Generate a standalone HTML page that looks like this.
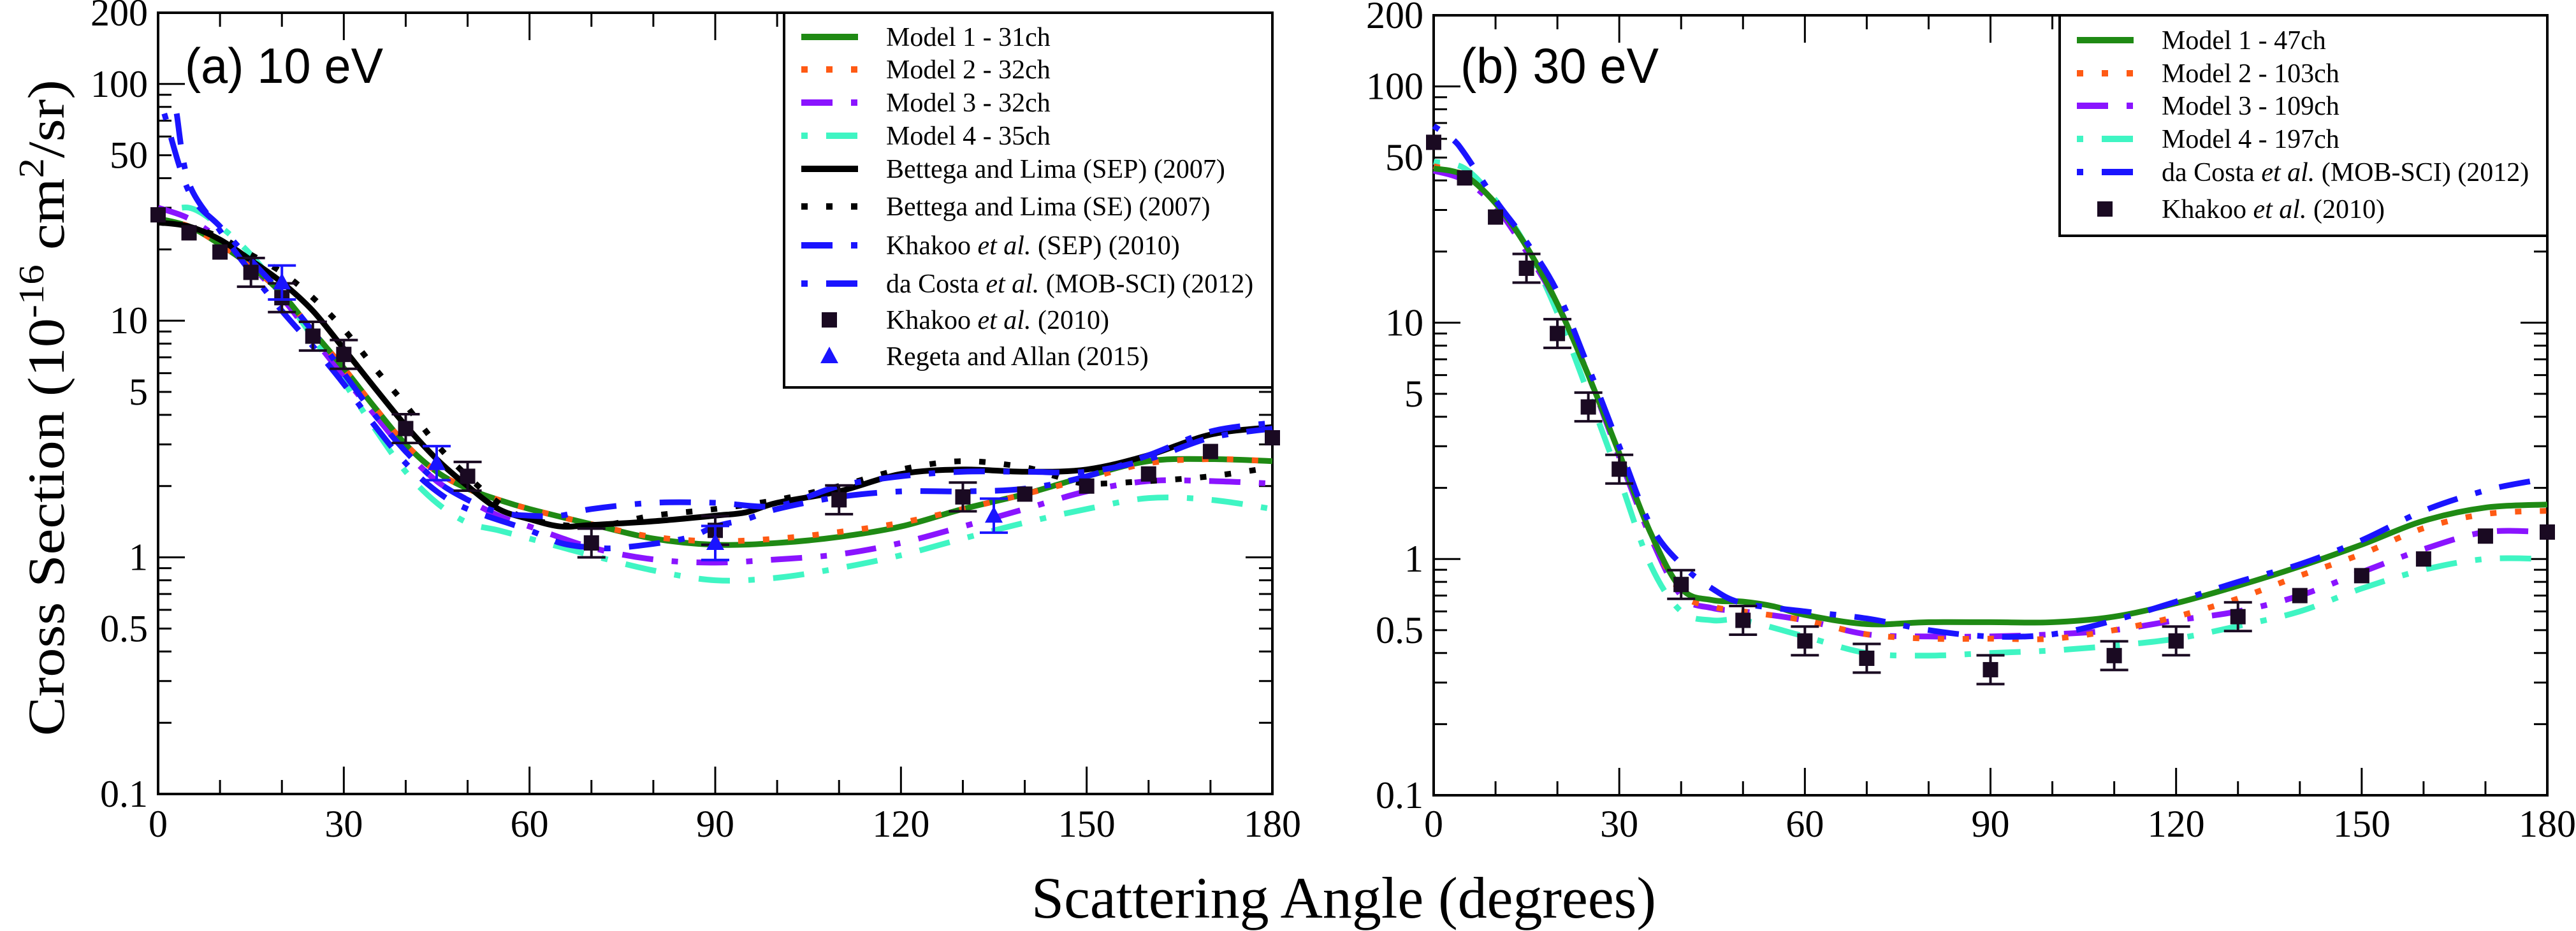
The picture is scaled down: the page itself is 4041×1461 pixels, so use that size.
<!DOCTYPE html>
<html><head><meta charset="utf-8"><style>
html,body{margin:0;padding:0;background:#fff;}
svg{display:block;}
text{font-family:"Liberation Serif",serif;}
text.sans{font-family:"Liberation Sans",sans-serif;}
</style></head><body>
<svg id="fig" width="4041" height="1461" viewBox="0 0 4041 1461" xmlns="http://www.w3.org/2000/svg">
<rect width="4041" height="1461" fill="#fff"/>
<text transform="translate(100,640) rotate(-90)" text-anchor="middle" font-size="82" textLength="1030" lengthAdjust="spacingAndGlyphs">Cross Section (10<tspan dy="-32" font-size="56">-16</tspan><tspan dy="32"> cm</tspan><tspan dy="-32" font-size="56">2</tspan><tspan dy="32">/sr)</tspan></text>
<text x="2108" y="1440" text-anchor="middle" font-size="92" textLength="980" lengthAdjust="spacingAndGlyphs">Scattering Angle (degrees)</text>
<g id="pa"></g>
<g id="pb"></g>
</svg>
<script>
// ---------- data: panel (a) 10 eV ----------
const a_m1_x=[0,5,10,15,20,25,30,35,40,45,50,55,60,70,80,90,100,110,120,130,140,150,160,170,180];
const a_m1_y=[27,25,21,17,13,9,6.3,4.3,3.0,2.3,1.95,1.75,1.6,1.38,1.2,1.13,1.15,1.22,1.35,1.6,1.85,2.2,2.55,2.6,2.55];
const a_m2_x=[0,5,10,15,20,25,30,35,40,45,50,55,60,70,80,90,100,110,120,130,140,150,160,170,180];
const a_m2_y=[27,25,21,17,13,9,6.3,4.3,3.0,2.3,1.95,1.75,1.6,1.38,1.22,1.17,1.2,1.28,1.4,1.6,1.85,2.15,2.5,2.6,2.55];
const a_m3_x=[0,5,10,15,20,25,30,35,40,45,50,55,60,70,80,90,100,110,120,130,140,150,160,170,180];
const a_m3_y=[30,27,22,17,12.5,8.5,5.8,4.0,2.8,2.1,1.75,1.5,1.35,1.1,0.98,0.95,0.98,1.03,1.15,1.35,1.6,1.9,2.1,2.1,2.05];
const a_m4_x=[0,5,10,15,20,25,30,35,40,45,50,55,60,70,80,90,100,110,120,130,140,150,160,170,180];
const a_m4_y=[28,30,25,19,13,8.5,5.5,3.5,2.3,1.7,1.4,1.3,1.2,1.02,0.88,0.8,0.82,0.9,1.02,1.2,1.4,1.6,1.78,1.75,1.6];
const a_bsep_x=[0,5,10,15,20,25,30,35,40,45,50,55,60,65,70,80,90,95,100,110,120,130,140,150,160,170,180];
const a_bsep_y=[26,25,22,18,14.5,11,7.6,5.2,3.6,2.6,2.0,1.6,1.45,1.35,1.37,1.42,1.5,1.55,1.7,1.9,2.25,2.35,2.3,2.35,2.7,3.3,3.55];
const a_bse_x=[0,5,10,15,20,25,30,35,40,45,50,55,60,70,80,90,100,110,120,130,140,145,150,160,170,180];
const a_bse_y=[26,25,22.5,19,16,12.5,9.2,6.3,4.4,3.0,2.2,1.7,1.45,1.35,1.5,1.6,1.75,2.0,2.35,2.55,2.4,2.2,2.05,2.1,2.2,2.4];
const a_ksep_x=[3,5,10,15,20,25,30,35,40,45,50,60,65,70,75,85,90,95,100,110,120,130,140,150,160,170,180];
const a_ksep_y=[75,38,24,16,11,7.8,5.4,3.6,2.5,1.9,1.6,1.3,1.15,1.1,1.1,1.2,1.35,1.45,1.6,1.8,1.9,1.9,1.95,2.2,2.7,3.4,3.7];
const a_dc_x=[1,5,10,15,20,25,30,35,40,45,50,55,60,65,70,80,90,100,110,120,130,140,150,160,170,180];
const a_dc_y=[75,35,25,18,13,9,6,4,2.8,2.1,1.75,1.55,1.5,1.5,1.6,1.7,1.7,1.65,2.0,2.2,2.3,2.3,2.3,2.6,3.2,3.5];
const a_kh_x=[0,5,10,15,20,25,30,40,50,70,90,110,130,140,150,160,170,180];
const a_kh_y=[28,23.5,19.5,16,12.5,8.6,7.2,3.5,2.2,1.15,1.3,1.75,1.8,1.85,2.0,2.25,2.8,3.2];
const a_kh_err=[0,0,0,1,1,1,1,1,1,1,1,1,1,0,0,0,0,0];
const a_ra_x=[20,45,90,135];
const a_ra_y=[14.5,2.5,1.15,1.5];
// ---------- data: panel (b) 30 eV ----------
const b_m1_x=[0,5,10,15,20,25,30,35,40,45,50,55,60,70,80,90,100,110,120,130,140,150,160,170,180];
const b_m1_y=[45,42,32,21,12,6,2.8,1.3,0.75,0.67,0.66,0.63,0.58,0.53,0.54,0.54,0.54,0.57,0.65,0.77,0.93,1.15,1.45,1.65,1.7];
const b_m2_x=[0,5,10,15,20,25,30,35,40,45,50,60,70,80,90,100,110,120,130,140,150,160,170,180];
const b_m2_y=[46,42,32,21,12,6,2.8,1.3,0.72,0.63,0.6,0.55,0.48,0.46,0.46,0.46,0.5,0.57,0.68,0.85,1.05,1.35,1.55,1.6];
const b_m3_x=[0,5,10,15,20,25,30,35,40,45,50,60,70,80,90,100,110,120,130,140,150,160,170,180];
const b_m3_y=[44,40,31,20,12,6,2.7,1.25,0.7,0.62,0.6,0.55,0.48,0.47,0.47,0.48,0.5,0.55,0.6,0.7,0.88,1.1,1.3,1.3];
const b_m4_x=[0,5,10,15,20,25,30,35,40,45,50,60,70,80,90,100,110,120,130,140,150,160,170,180];
const b_m4_y=[48,45,33,21,11,5,2.2,0.95,0.6,0.55,0.55,0.47,0.4,0.39,0.4,0.41,0.43,0.46,0.52,0.6,0.75,0.9,1.0,1.0];
const b_dc_x=[0,3,5,10,15,20,25,30,35,40,45,50,60,70,80,90,100,110,120,130,140,150,160,170,178];
const b_dc_y=[68,60,52,33,22,13.5,6.5,3.0,1.4,0.95,0.75,0.65,0.6,0.56,0.5,0.47,0.48,0.55,0.66,0.8,0.95,1.2,1.6,1.95,2.15];
const b_kh_x=[0,5,10,15,20,25,30,40,50,60,70,90,110,120,130,140,150,160,170,180];
const b_kh_y=[58,41,28,17,9,4.4,2.4,0.78,0.55,0.45,0.38,0.34,0.39,0.45,0.57,0.7,0.85,1.0,1.25,1.3];
const b_kh_err=[0,0,0,1,1,1,1,1,1,1,1,1,1,1,1,0,0,0,0,0];
// legends
const a_labels=["Model 1 - 31ch","Model 2 - 32ch","Model 3 - 32ch","Model 4 - 35ch","Bettega and Lima (SEP) (2007)","Bettega and Lima (SE) (2007)","Khakoo |et al.| (SEP) (2010)","da Costa |et al.| (MOB-SCI) (2012)","Khakoo |et al.| (2010)","Regeta and Allan (2015)"];
const b_labels=["Model 1 - 47ch","Model 2 - 103ch","Model 3 - 109ch","Model 4 - 197ch","da Costa |et al.| (MOB-SCI) (2012)","Khakoo |et al.| (2010)"];

const NS="http://www.w3.org/2000/svg";
const ST={
 m1:{c:"#1f8a14",d:""},
 m2:{c:"#ff5a14",d:"10 29"},
 m3:{c:"#8a14ff",d:"49 29 10 29"},
 m4:{c:"#3ff5c3",d:"10 29 49 29"},
 bsep:{c:"#000",d:""},
 bse:{c:"#000",d:"10 29"},
 ksep:{c:"#1a14ff",d:"49 29 10 29"},
 dc:{c:"#1a14ff",d:"10 29 49 29"}
};
function mk(tag,attrs,parent){const e=document.createElementNS(NS,tag);for(const k in attrs)e.setAttribute(k,attrs[k]);parent.appendChild(e);return e;}

function panel(g,x0,x1,y0,y1,label){
 const X=a=>x0+(a/180)*(x1-x0);
 const lmin=-1,lmax=Math.log10(200);
 const Y=v=>y1-(Math.log10(v)-lmin)/(lmax-lmin)*(y1-y0);
 for(let a=0;a<=180;a+=10){
  const L=(a%30===0)?43:22;
  let t=mk("line",{x1:X(a),x2:X(a),y1:y1,y2:y1-L,stroke:"#000","stroke-width":3},g);
  
  
  t=mk("line",{x1:X(a),x2:X(a),y1:y0,y2:y0+L,stroke:"#000","stroke-width":3},g);
  
  
  if(a%30===0){
   const tl=mk("text",{x:X(a),y:1313,"text-anchor":"middle","font-size":60},g);tl.textContent=a;
   
   
  }
 }
 const yt=[];for(const d of [0.1,1,10,100])for(let m=1;m<=9;m++){const v=d*m;if(v<=200.0001)yt.push(v);}
 yt.push(200);
 for(const v of yt){
  const maj=[0.1,1,10,100].some(q=>Math.abs(q-v)<1e-9);
  const L=maj?42:21;
  let t=mk("line",{x1:x0,x2:x0+L,y1:Y(v),y2:Y(v),stroke:"#000","stroke-width":3},g);
  
  
  t=mk("line",{x1:x1,x2:x1-L,y1:Y(v),y2:Y(v),stroke:"#000","stroke-width":3},g);
  
  
 }
 for(const v of [0.1,0.5,1,5,10,50,100,200]){
  const tl=mk("text",{x:x0-16,y:Y(v)+20,"text-anchor":"end","font-size":60},g);tl.textContent=v;
  
  
 }
 const fr=mk("rect",{x:x0,y:y0,width:x1-x0,height:y1-y0,fill:"none",stroke:"#000","stroke-width":4},g);
 
 
 const pl=mk("text",{x:x0+42,y:130,"font-size":78,"class":"sans",textLength:311,lengthAdjust:"spacingAndGlyphs"},g);
 pl.textContent=label;
 
 
 return {X,Y};
}
function curve(g,ax,xs,ys,st,name){
 const p=xs.map((a,i)=>[ax.X(a),ax.Y(ys[i])]);
 let d="M"+p[0][0]+","+p[0][1];
 for(let i=0;i<p.length-1;i++){
  const p0=p[Math.max(0,i-1)],p1=p[i],p2=p[i+1],p3=p[Math.min(p.length-1,i+2)];
  const c1=[p1[0]+(p2[0]-p0[0])/6,p1[1]+(p2[1]-p0[1])/6];
  const c2=[p2[0]-(p3[0]-p1[0])/6,p2[1]-(p3[1]-p1[1])/6];
  d+=" C"+c1+" "+c2+" "+p2;
 }
 const e=mk("path",{d:d,fill:"none",stroke:st.c,"stroke-width":9,"stroke-dasharray":st.d||"none"},g);
 
 
}
function squares(g,ax,xs,ys,errs,name){
 xs.forEach((a,i)=>{
  const x=ax.X(a),y=ax.Y(ys[i]);
  if(errs[i]){
   const yu=ax.Y(ys[i]*1.15),yd=ax.Y(ys[i]/1.15);
   const eb=mk("path",{d:`M${x},${yu}V${yd}M${x-22},${yu}h44M${x-22},${yd}h44`,stroke:"#1a0a22","stroke-width":4,fill:"none"},g);
   
   
  }
  const s=mk("rect",{x:x-12,y:y-12,width:24,height:24,fill:"#1a0a22"},g);
  
  
 });
}
function triangles(g,ax,xs,ys,name){
 xs.forEach((a,i)=>{
  const x=ax.X(a),y=ax.Y(ys[i]);
  const yu=ax.Y(ys[i]*1.18),yd=ax.Y(ys[i]/1.18);
  const eb=mk("path",{d:`M${x},${yu}V${yd}M${x-22},${yu}h44M${x-22},${yd}h44`,stroke:"#1a14ff","stroke-width":4,fill:"none"},g);
  
  
  const t=mk("path",{d:`M${x},${y-15}L${x+14},${y+11}L${x-14},${y+11}Z`,fill:"#1a14ff"},g);
  
  
 });
}
function legend(g,bx0,bx1,by0,by1,labels,kinds,baselines){
 const r=mk("rect",{x:bx0,y:by0,width:bx1-bx0,height:by1-by0,fill:"#fff",stroke:"#000","stroke-width":4},g);
 
 
 labels.forEach((lab,i)=>{
  const by=baselines[i],cy=by-14,k=kinds[i];
  if(k==="sq"){const s=mk("rect",{x:bx0+59,y:cy-12,width:24,height:24,fill:"#1a0a22"},g);}
  else if(k==="tri"){const s=mk("path",{d:`M${bx0+71},${cy-15}L${bx0+85},${cy+11}L${bx0+57},${cy+11}Z`,fill:"#1a14ff"},g);}
  else {const s=mk("line",{x1:bx0+27,x2:bx0+116,y1:cy,y2:cy,stroke:ST[k].c,"stroke-width":10,"stroke-dasharray":ST[k].d||"none"},g);}
  const t=mk("text",{x:bx0+160,y:by,"font-size":42},g);
  lab.split("|").forEach((part,j)=>{const ts=mk("tspan",{},t);ts.textContent=part;if(j===1)ts.setAttribute("font-style","italic");});
  
  
 });
}
const ga=document.getElementById("pa");
const A=panel(ga,248,1996,20,1246,"(a) 10 eV");
curve(ga,A,a_m4_x,a_m4_y,ST.m4,"model4-curve");
curve(ga,A,a_m3_x,a_m3_y,ST.m3,"model3-curve");
curve(ga,A,a_m1_x,a_m1_y,ST.m1,"model1-curve");
curve(ga,A,a_m2_x,a_m2_y,ST.m2,"model2-curve");
curve(ga,A,a_bse_x,a_bse_y,ST.bse,"bettega-se-curve");
curve(ga,A,a_bsep_x,a_bsep_y,ST.bsep,"bettega-sep-curve");
curve(ga,A,a_ksep_x,a_ksep_y,ST.ksep,"khakoo-sep-curve");
curve(ga,A,a_dc_x,a_dc_y,ST.dc,"dacosta-curve");
squares(ga,A,a_kh_x,a_kh_y,a_kh_err,"khakoo-point");
triangles(ga,A,a_ra_x,a_ra_y,"regeta-point");
legend(ga,1230,1996,20,608,a_labels,["m1","m2","m3","m4","bsep","bse","ksep","dc","sq","tri"],[72,123,175,227,279,338,399,459,516,573]);
const gb=document.getElementById("pb");
const B=panel(gb,2249,3996,24,1248,"(b) 30 eV");
curve(gb,B,b_m4_x,b_m4_y,ST.m4,"model4-curve");
curve(gb,B,b_m3_x,b_m3_y,ST.m3,"model3-curve");
curve(gb,B,b_m2_x,b_m2_y,ST.m2,"model2-curve");
curve(gb,B,b_m1_x,b_m1_y,ST.m1,"model1-curve");
curve(gb,B,b_dc_x,b_dc_y,ST.dc,"dacosta-curve");
squares(gb,B,b_kh_x,b_kh_y,b_kh_err,"khakoo-point");
legend(gb,3231,3996,24,370,b_labels,["m1","m2","m3","m4","dc","sq"],[77,129,180,232,284,342]);
</script>
</body></html>
